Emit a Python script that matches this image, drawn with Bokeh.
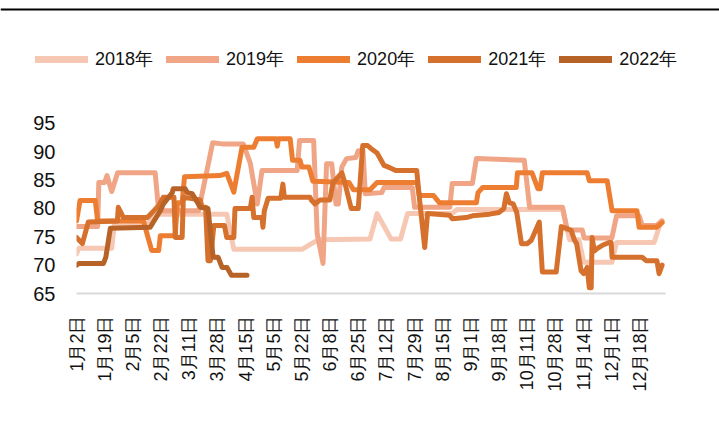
from bokeh.plotting import figure
from bokeh.layouts import column
from bokeh.models import Range1d, FixedTicker, Legend, LegendItem, Span
from bokeh.embed import file_html
from bokeh.resources import INLINE

# Trading-day axis: one label every 12 trading days
tick_labels = ["1月2日", "1月19日", "2月5日", "2月22日", "3月11日", "3月28日", "4月15日",
               "5月5日", "5月22日", "6月8日", "6月25日", "7月12日", "7月29日", "8月15日",
               "9月1日", "9月18日", "10月11日", "10月28日", "11月14日", "12月1日", "12月18日"]
tick_step = 12

series_names = ["2018年", "2019年", "2020年", "2021年", "2022年"]
series_colors = ["#F6C8B4", "#F0A587", "#ED7D31", "#D6702D", "#B76328"]

# (trading day, value) pairs for each year
day_2018 = [0, 1, 15, 16, 31, 33, 64, 67, 96, 103, 125, 128, 134, 138, 141, 160, 162,
            207, 210, 214, 216, 228, 230, 246, 249]
val_2018 = [72.0, 73.0, 73.0, 77.0, 77.5, 79.0, 79.0, 72.8, 72.8, 74.5, 74.6, 79.1, 74.6,
            74.6, 79.1, 79.1, 79.8, 79.8, 74.5, 74.5, 70.5, 70.5, 74.0, 74.0, 77.8]

day_2019 = [0, 9, 9.5, 12, 13, 15, 17.5, 33.5, 35, 52, 58, 62, 71, 74, 77, 79, 94, 95,
            101, 102.5, 105, 106.5, 108.7, 110.5, 111.5, 113, 115, 119, 120, 122, 123,
            130, 131, 143, 144, 159, 160, 168.6, 170.3, 190.7, 193, 207, 209, 215.4,
            216.2, 228, 230, 239.6, 241, 247, 249.4]
val_2019 = [76.8, 76.8, 84.6, 84.6, 85.8, 83.0, 86.3, 86.3, 79.6, 79.6, 91.6, 91.4, 91.4,
            88.0, 80.8, 86.7, 86.7, 92.0, 92.0, 75.6, 70.3, 87.9, 87.9, 80.8, 80.8, 87.3,
            88.8, 89.0, 90.2, 90.2, 82.6, 82.8, 83.7, 83.7, 80.2, 80.2, 84.4, 84.4, 88.8,
            88.5, 80.2, 80.2, 76.2, 76.2, 74.8, 74.8, 78.7, 78.7, 77.0, 77.0, 77.8]

day_2020 = [0, 1.5, 8, 9, 28.5, 32, 35, 35.7, 42, 43, 45, 46, 61, 64, 67, 70.5, 75.5, 77,
            85, 85.5, 86, 91, 92, 95.2, 96, 99, 100.7, 116, 118, 125, 128, 145, 146, 152,
            154.6, 170.3, 171, 173, 187.3, 187.8, 194, 196.5, 197.5, 198.4, 217.5, 218.4,
            226, 228.1, 238.7, 239.6, 247.2, 249.4]
val_2020 = [77.8, 81.4, 81.4, 77.8, 77.8, 72.6, 72.6, 75.2, 75.2, 81.0, 81.0, 85.6, 85.8,
            86.2, 82.9, 90.8, 90.8, 92.3, 92.3, 91.0, 92.3, 92.3, 88.5, 88.5, 87.3, 87.3,
            84.8, 84.6, 83.3, 83.3, 84.6, 84.6, 82.3, 82.3, 81.0, 81.0, 82.8, 83.7, 83.7,
            86.3, 86.3, 83.5, 83.5, 86.3, 86.3, 84.9, 84.9, 79.6, 79.6, 76.7, 76.7, 77.5]

day_2021 = [0, 2.5, 5, 17.4, 17.8, 20, 30.2, 35, 37, 41.5, 42.1, 45, 45.5, 52.7, 53.5, 55,
            56, 57, 58.5, 63, 64, 67, 67.5, 74, 74.8, 75.5, 79, 79.4, 80, 81.6, 87, 87.9,
            88.5, 99.4, 100, 101.5, 103.7, 107.9, 109.2, 113, 114.3, 117, 120, 121.9, 124,
            126, 128, 131, 133.4, 136, 144.9, 146, 148.3, 149.5, 158.9, 160, 166, 168.6,
            175.9, 180, 182, 183.1, 184.4, 186, 187.5, 189.5, 192, 193.7, 197.1, 198.4,
            204.3, 206.5, 208.6, 210.7, 212, 213, 214.9, 216, 217.5, 218.4, 219.2, 219.6,
            220.5, 222, 224, 226.8, 227.7, 228.1, 240.9, 242.6, 247.2, 248.1, 249.4]
val_2021 = [74.9, 73.8, 77.6, 77.8, 80.2, 78.4, 78.4, 80.5, 82.0, 82.0, 74.9, 74.9, 82.0,
            81.5, 80.2, 80.2, 70.8, 70.8, 77.0, 77.0, 74.9, 74.9, 80.0, 80.0, 82.0, 78.4,
            78.4, 76.7, 79.6, 81.8, 81.8, 84.3, 82.0, 82.0, 81.5, 80.8, 81.5, 81.5, 84.5,
            86.3, 84.5, 80.0, 80.0, 91.1, 91.1, 90.4, 89.8, 87.6, 87.2, 86.7, 86.7, 82.0,
            73.1, 79.1, 78.8, 78.2, 78.4, 78.7, 79.0, 79.3, 80.0, 82.6, 81.0, 80.8, 79.3,
            73.8, 73.8, 74.4, 77.6, 68.8, 68.8, 76.8, 76.5, 76.1, 74.5, 73.8, 69.0, 68.5,
            69.6, 66.0, 66.0, 74.9, 72.5, 73.0, 73.5, 74.0, 74.0, 71.4, 71.4, 70.8, 70.8,
            68.5, 70.0]

day_2022 = [0, 1, 11.5, 12.5, 14.4, 31.4, 33, 35.7, 37, 40.8, 41.2, 46.3, 47.2, 49.3, 51,
            52.7, 56, 58.2, 60.3, 62, 64.1, 66, 72.6]
val_2022 = [70.0, 70.3, 70.3, 71.4, 76.5, 76.7, 77.8, 79.6, 80.8, 82.8, 83.5, 83.5, 82.8,
            82.6, 81.4, 80.2, 80.0, 71.4, 71.4, 69.6, 69.6, 68.2, 68.2]

series_days = [day_2018, day_2019, day_2020, day_2021, day_2022]
series_vals = [val_2018, val_2019, val_2020, val_2021, val_2022]

LINE_W = 5

# ---- header strip: top rule and the legend ----
head = figure(width=719, height=110, output_backend="svg", toolbar_location=None,
              x_range=Range1d(0, 719), y_range=Range1d(110, 0),
              min_border=0, x_axis_type=None, y_axis_type=None)
head.frame_align = False
head.outline_line_color = None
head.grid.visible = False
head.add_layout(Span(location=9, dimension="width", line_color="#000000", line_width=2))

# legend proxies: kept outside the header's visible range
proxy_x = [-20, -10]
proxy_y = [-20, -20]
legend_items = []
for name, color in zip(series_names, series_colors):
    swatch = head.line(x=proxy_x, y=proxy_y, line_color=color, line_width=7, line_cap="round")
    legend_items.append(LegendItem(label=name, renderers=[swatch]))

legend = Legend(items=legend_items, orientation="horizontal", location=(35, 39),
                glyph_width=53, glyph_height=20, label_height=20,
                label_standoff=7, spacing=13, padding=0, margin=0,
                border_line_color=None, background_fill_alpha=0,
                label_text_font="Liberation Sans", label_text_font_size="18px",
                label_text_color="#111111")
head.add_layout(legend)

# ---- main chart ----
p = figure(width=719, height=312, output_backend="svg", toolbar_location=None,
           x_range=Range1d(0, 250.85), y_range=Range1d(65, 97.29),
           min_border_left=76, min_border_right=54, min_border_top=0,
           min_border_bottom=129)
p.frame_align = False
p.outline_line_color = None
p.grid.visible = False

for days, vals, color in zip(series_days, series_vals, series_colors):
    p.line(days, vals, line_color=color, line_width=LINE_W,
           line_join="round", line_cap="round")

# y axis: labels only
p.yaxis.ticker = FixedTicker(ticks=[65, 70, 75, 80, 85, 90, 95])
p.yaxis.axis_line_color = None
p.yaxis.major_tick_line_color = None
p.yaxis.minor_tick_line_color = None
p.yaxis.major_label_standoff = 15
p.yaxis.major_label_text_font = "Liberation Sans"
p.yaxis.major_label_text_font_size = "20px"
p.yaxis.major_label_text_color = "#111111"

# x axis: date labels written vertically
ticks = [i * tick_step for i in range(len(tick_labels))]
p.xaxis.ticker = FixedTicker(ticks=ticks)
p.xaxis.major_label_overrides = {t: lab for t, lab in zip(ticks, tick_labels)}
p.xaxis.major_label_orientation = 1.5708
p.xaxis.axis_line_color = "#D9D9D9"
p.xaxis.axis_line_width = 2
p.xaxis.major_tick_line_color = None
p.xaxis.minor_tick_line_color = None
p.xaxis.major_label_standoff = 16
p.xaxis.major_label_text_font = "Liberation Sans"
p.xaxis.major_label_text_font_size = "18px"
p.xaxis.major_label_text_color = "#111111"

layout = column(head, p, spacing=0)
open("out.html", "w").write(file_html(layout, INLINE))
